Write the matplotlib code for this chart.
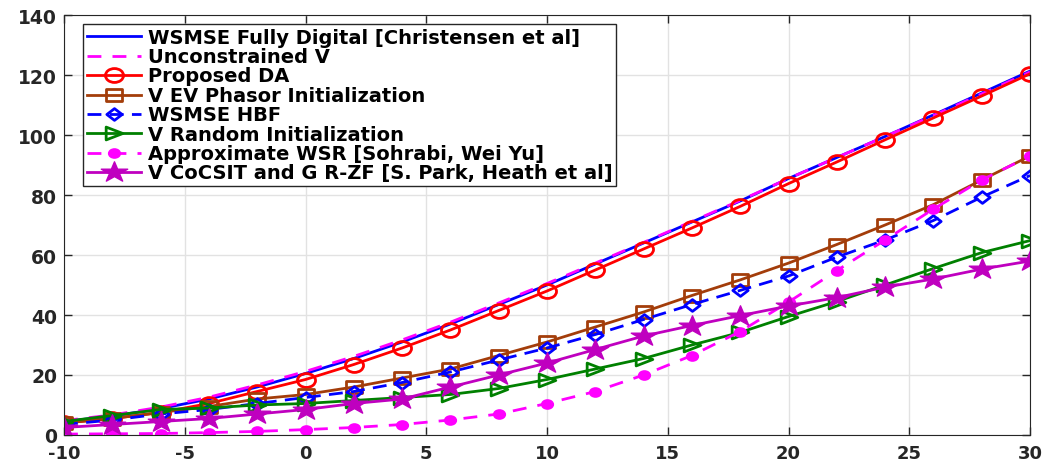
import matplotlib
matplotlib.use("Agg")
import matplotlib.pyplot as plt
from matplotlib.markers import MarkerStyle
from matplotlib.transforms import Affine2D
import numpy as np

plt.rcParams['font.family'] = ['DejaVu Sans']
plt.rcParams['font.weight'] = 'bold'
plt.rcParams['axes.unicode_minus'] = False

snr = [-10, -8, -6, -4, -2, 0, 2, 4, 6, 8, 10, 12, 14, 16, 18, 20, 22, 24, 26, 28, 30]

fully_digital = [4.5, 6.3, 8.8, 12, 16, 20.5, 25.5, 31, 37, 43.5, 50, 57, 64, 71, 78, 85.5, 92.5, 99.5, 106.7, 114, 121.3]
unconstrained_v = [4.8, 6.7, 9.3, 12.6, 16.7, 21.2, 26.2, 31.7, 37.6, 44, 50.5, 57.3, 64.2, 71.2, 78.2, 85.5, 92.5, 99.5, 106.5, 113.7, 121]
proposed_da = [4, 5.5, 7.5, 10.5, 14.5, 18.5, 23.5, 29, 35, 41.5, 48, 55, 62, 69, 76.2, 83.8, 91, 98.4, 105.7, 113, 120.4]
ev_phasor = [4, 5.5, 7.5, 9.5, 12, 13.5, 16, 19, 22, 26.5, 31, 36, 41, 46.5, 51.7, 57.3, 63.5, 70, 76.8, 85, 93]
wsmse_hbf = [3.5, 5, 7, 8.5, 10.5, 12.5, 14.5, 17.5, 21, 25, 29, 33.5, 38.5, 43.5, 48.2, 53, 59.3, 65, 71.5, 79.3, 86.5]
random_init = [4.5, 6.5, 8.5, 9, 10, 10.5, 11.5, 12.5, 13.5, 15.5, 18.5, 22, 25.5, 30, 34.2, 39.5, 44.5, 50, 55.5, 60.8, 64.8]
approx_wsr = [0.3, 0.4, 0.5, 0.8, 1.2, 1.8, 2.5, 3.5, 5, 7, 10.5, 14.5, 20, 26.5, 34.5, 44.3, 54.8, 65, 75.3, 85, 93]
cocsit = [2.5, 3.5, 4.5, 5.5, 7, 8.5, 10.5, 12, 16, 20, 24, 28.5, 33, 36.5, 39.8, 43, 45.8, 49.3, 52, 55.3, 58]

labels = [
    "WSMSE Fully Digital [Christensen et al]",
    "Unconstrained V",
    "Proposed DA",
    "V EV Phasor Initialization",
    "WSMSE HBF",
    "V Random Initialization",
    "Approximate WSR [Sohrabi, Wei Yu]",
    "V CoCSIT and G R-ZF [S. Park, Heath et al]",
]


def wide(m, sx=1.3):
    ms = MarkerStyle(m)
    return ms.get_path().transformed(ms.get_transform()).transformed(Affine2D().scale(sx, 1))


fig = plt.figure(figsize=(10.51, 4.64), dpi=100)
ax = fig.add_axes([64/1051, 28/464, 966/1051, 420/464])

lw = 2
ax.plot(snr, fully_digital, color=(0, 0, 1), lw=lw, label=labels[0])
ax.plot(snr, unconstrained_v, color=(1, 0, 1), lw=lw, ls=(0, (5, 4)), label=labels[1])
ax.plot(snr, proposed_da, color=(1, 0, 0), lw=lw, marker=wide('o'), ms=13, mfc='none', mew=2, label=labels[2])
ax.plot(snr, ev_phasor, color=(0.64, 0.24, 0.04), lw=lw, marker=wide('s'), ms=11, mfc='none', mew=2, label=labels[3])
ax.plot(snr, wsmse_hbf, color=(0, 0, 1), lw=lw, ls=(0, (5, 3)), marker=wide('D'), ms=11, mfc='none', mew=2, label=labels[4])
ax.plot(snr, random_init, color=(0, 0.5, 0), lw=lw, marker=wide('>'), ms=12, mfc='none', mew=2, label=labels[5])
ax.plot(snr, approx_wsr, color=(1, 0, 1), lw=lw, ls=(0, (5, 4)), marker=wide('o'), ms=8, mew=1.5, label=labels[6])
ax.plot(snr, cocsit, color=(0.75, 0, 0.75), lw=lw, marker=wide('*'), ms=19, label=labels[7])

ax.set_xlim(-10, 30)
ax.set_ylim(0, 140)
ax.set_xticks(range(-10, 31, 5))
ax.set_yticks(range(0, 141, 20))
ax.grid(True, color='#e2e2e2', lw=1)
ax.set_axisbelow(True)
ax.tick_params(direction='in', top=True, right=True, length=6, colors='#262626', width=1)
ax.tick_params(axis='x', pad=6.8, labelsize=13)
ax.tick_params(axis='y', pad=5, labelsize=13.5)
for lab in ax.get_xticklabels() + ax.get_yticklabels():
    lab.set_fontweight('bold')
for s in ax.spines.values():
    s.set_color('#262626')

leg = ax.legend(loc='upper left', bbox_to_anchor=(0.0193, 0.979), fontsize=14,
                handlelength=2.8, handleheight=0.5, labelspacing=0.02, borderaxespad=0, borderpad=0.2,
                handletextpad=0.35, fancybox=False, framealpha=1, edgecolor='#262626')
leg.get_frame().set_linewidth(1)
for t in leg.get_texts():
    t.set_fontweight('bold')

fig.savefig("out.png", dpi=100)
